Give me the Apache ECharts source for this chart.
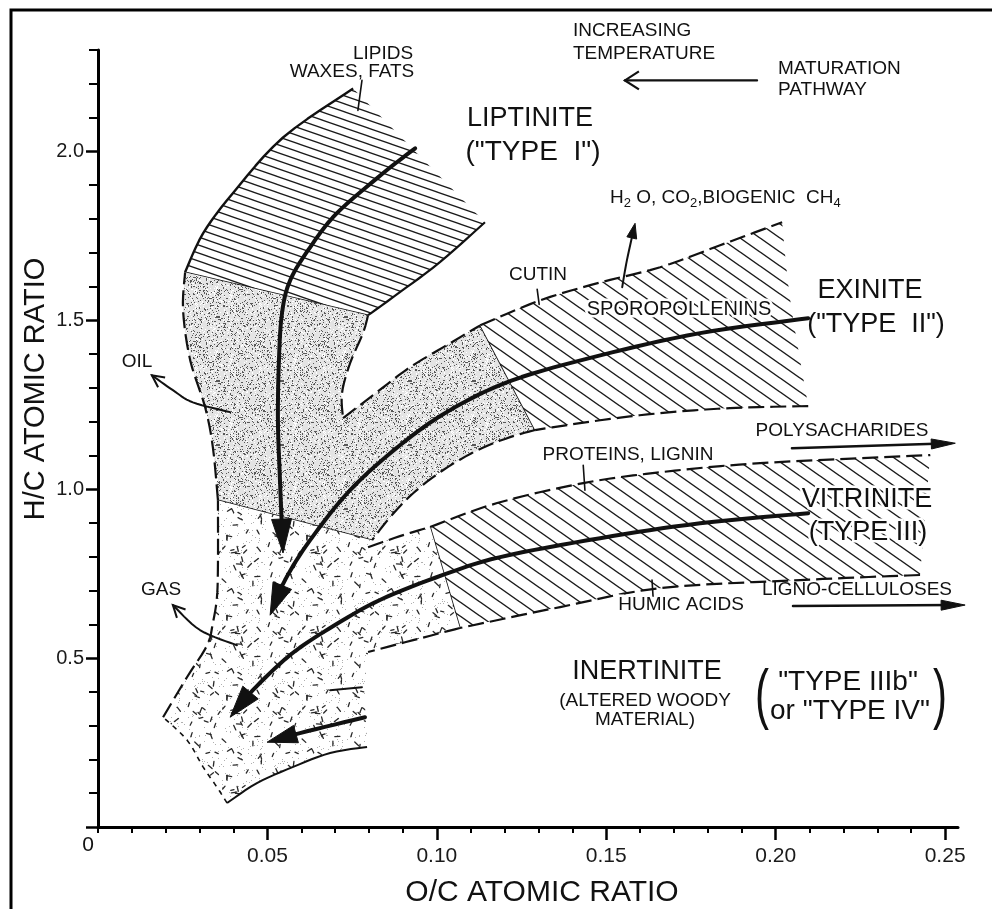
<!DOCTYPE html>
<html><head><meta charset="utf-8">
<script src="https://cdn.jsdelivr.net/npm/echarts@6.0.0/dist/echarts.min.js"></script>
<style>html,body{margin:0;padding:0;background:#fff}#c{width:992px;height:909px}</style>
</head><body><div id="c"></div>
<script>
// ---------------- axis ticks / labels ----------------
const xTickLabels = [0.05, 0.10, 0.15, 0.20, 0.25];
const xMajorTicks = [0.05, 0.10, 0.15, 0.20, 0.25];
const xMinorTicks = [0, 0.01, 0.02, 0.03, 0.04, 0.06, 0.07, 0.08, 0.09, 0.11, 0.12, 0.13, 0.14,
  0.16, 0.17, 0.18, 0.19, 0.21, 0.22, 0.23, 0.24];
const yTickLabels = [0.5, 1.0, 1.5, 2.0];
const yMajorTicks = [0, 0.5, 1.0, 1.5, 2.0];
const yMinorTicks = [0.1, 0.2, 0.3, 0.4, 0.6, 0.7, 0.8, 0.9, 1.1, 1.2, 1.3, 1.4, 1.6, 1.7, 1.8, 1.9, 2.1, 2.2, 2.3];

// ---------------- regions (O/C, H/C) ----------------
const typeIBand = [[0.0257,1.642],[0.0310,1.757],[0.0398,1.876],[0.0546,2.041],[0.0753,2.186],
  [0.1142,1.790],[0.1009,1.672],[0.0891,1.583],[0.0797,1.515]];
const oilZone = [[0.0257,1.642],[0.0797,1.515],[0.0782,1.462],[0.0744,1.373],[0.0720,1.284],[0.0723,1.210],
  [0.0823,1.287],[0.0921,1.361],[0.1039,1.432],[0.1128,1.485],[0.1290,1.175],[0.1216,1.154],[0.1119,1.115],
  [0.1018,1.056],[0.0930,0.988],[0.0862,0.917],[0.0809,0.849],[0.0354,0.967],[0.0339,1.124],[0.0316,1.243],
  [0.0272,1.382],[0.0251,1.530]];
const typeIIBand = [[0.1128,1.485],[0.1305,1.559],[0.1482,1.612],[0.1659,1.657],[0.1836,1.722],[0.2019,1.790],
  [0.2043,1.559],[0.2096,1.246],[0.1865,1.240],[0.1659,1.225],[0.1482,1.204],[0.1290,1.175]];
const typeIIIBand = [[0.0980,0.888],[0.1178,0.959],[0.1432,1.018],[0.1659,1.050],[0.1954,1.077],[0.2456,1.101],
  [0.2426,0.746],[0.2072,0.731],[0.1659,0.707],[0.1364,0.651],[0.1068,0.589]];
const gasZone = [[0.0354,0.967],[0.0809,0.849],[0.0797,0.828],[0.0891,0.861],[0.0980,0.888],[0.1068,0.589],
  [0.0930,0.553],[0.0797,0.518],[0.0788,0.405],[0.0794,0.237],[0.0685,0.219],[0.0576,0.178],[0.0469,0.130],
  [0.0381,0.071],[0.0351,0.118],[0.0310,0.178],[0.0263,0.257],[0.0192,0.325],[0.0263,0.444],[0.0322,0.538],
  [0.0339,0.604],[0.0351,0.680],[0.0354,0.781]];

// ---------------- maturation paths and arrows ----------------
const typeIPath = [[0.0936,2.009],[0.0841,1.935],[0.0705,1.817],[0.0626,1.716],[0.0567,1.618],[0.0543,1.521],
  [0.0534,1.382],[0.0531,1.204],[0.0537,1.027],[0.0546,0.811]];
const typeIIPath = [[0.2096,1.506],[0.1777,1.462],[0.1482,1.396],[0.1222,1.322],[0.1039,1.234],[0.0891,1.130],
  [0.0744,0.997],[0.0626,0.849],[0.0552,0.731],[0.0508,0.627]];
const typeIIIPath = [[0.2096,0.929],[0.1777,0.899],[0.1482,0.855],[0.1187,0.799],[0.1018,0.746],[0.0832,0.672],
  [0.0685,0.589],[0.0567,0.509],[0.0457,0.405],[0.0390,0.325]];
const typeIVPath = [[0.0788,0.325],[0.0596,0.278],[0.0499,0.251]];
const typeIVEdge = [[0.0685,0.405],[0.0779,0.414]];
const oilArrow = [[0.0390,1.228],[0.0280,1.257],[0.0221,1.293],[0.0159,1.337]];
const gasArrow = [[0.0410,0.538],[0.0301,0.583],[0.0221,0.657]];
const h2oArrow = [[0.1547,1.598],[0.1561,1.678],[0.1585,1.787]];
const maturationArrow = [[0.1945,2.210],[0.1555,2.210]];
const polysaccharideArrow = [[0.2048,1.121],[0.2530,1.136]];
const lignoArrow = [[0.2051,0.654],[0.2559,0.657]];
const lipidsLeader = [[0.0779,2.210],[0.0767,2.121]];
const cutinLeader = [[0.1296,1.592],[0.1302,1.547]];
const proteinsLeader = [[0.1432,1.071],[0.1437,0.997]];
const humicLeader = [[0.1635,0.731],[0.1638,0.683]];

// ---------------- textures ----------------
let seed = 987654;
function rnd() { seed = (Math.imul(seed, 1664525) + 1013904223) >>> 0; return seed / 4294967296; }
function hatchTile(w, h, lw) {
  const c = document.createElement('canvas'); c.width = w; c.height = h;
  const g = c.getContext('2d'); g.fillStyle = '#fff'; g.fillRect(0, 0, w, h);
  g.strokeStyle = '#1a1a1a'; g.lineWidth = lw;
  for (let k = -2; k <= 2; k++) { g.beginPath(); g.moveTo(-w, -h + k * h); g.lineTo(2 * w, 2 * h + k * h); g.stroke(); }
  return c;
}
function stippleTile() {
  const s = 64, c = document.createElement('canvas'); c.width = s; c.height = s;
  const g = c.getContext('2d'); g.fillStyle = '#e4e4e4'; g.fillRect(0, 0, s, s);
  for (let y = 0; y < s; y++) for (let x = 0; x < s; x++) {
    const r = rnd();
    if (r < 0.14) { g.fillStyle = '#585858'; g.fillRect(x, y, 1, 1); }
    else if (r < 0.26) { g.fillStyle = '#ffffff'; g.fillRect(x, y, 1, 1); }
  }
  return c;
}
function dashTile() {
  const s = 80, c = document.createElement('canvas'); c.width = s; c.height = s;
  const g = c.getContext('2d'); g.fillStyle = '#fff'; g.fillRect(0, 0, s, s);
  for (let y = 0; y < s; y++) for (let x = 0; x < s; x++) {
    if (rnd() < 0.025) { g.fillStyle = '#b0b0b0'; g.fillRect(x, y, 1, 1); }
  }
  g.strokeStyle = '#2a2a2a'; g.lineWidth = 1.3; g.lineCap = 'round';
  for (let i = 0; i < 60; i++) {
    const x = rnd() * s, y = rnd() * s, a = rnd() * Math.PI, L = 3 + rnd() * 2.5;
    for (const ox of [-s, 0, s]) for (const oy of [-s, 0, s]) {
      g.beginPath();
      g.moveTo(x + ox - Math.cos(a) * L / 2, y + oy - Math.sin(a) * L / 2);
      g.lineTo(x + ox + Math.cos(a) * L / 2, y + oy + Math.sin(a) * L / 2);
      g.stroke();
    }
  }
  return c;
}
const hatchI = { image: hatchTile(23, 8, 1.3), repeat: 'repeat' };
const hatchII = { image: hatchTile(20, 14, 1.4), repeat: 'repeat' };
const stipple = { image: stippleTile(), repeat: 'repeat' };
const dashes = { image: dashTile(), repeat: 'repeat' };

// ---------------- geometry helpers ----------------
function catmull(P, steps) {
  if (P.length < 3) return P.slice();
  const out = [P[0]];
  for (let i = 0; i < P.length - 1; i++) {
    const p0 = P[Math.max(i - 1, 0)], p1 = P[i], p2 = P[i + 1], p3 = P[Math.min(i + 2, P.length - 1)];
    for (let s = 1; s <= steps; s++) {
      const t = s / steps, t2 = t * t, t3 = t2 * t;
      const f = (a, b, c, d) => 0.5 * ((2 * b) + (-a + c) * t + (2 * a - 5 * b + 4 * c - d) * t2 + (-a + 3 * b - 3 * c + d) * t3);
      out.push([f(p0[0], p1[0], p2[0], p3[0]), f(p0[1], p1[1], p2[1], p3[1])]);
    }
  }
  return out;
}
function runIdx(n, i, j) { const idx = []; let k = i; for (;;) { idx.push(k); if (k === j) break; k = (k + 1) % n; } return idx; }
function regionPath(px, corners) {
  let out = [];
  for (let c = 0; c < corners.length; c++) {
    const run = catmull(runIdx(px.length, corners[c], corners[(c + 1) % corners.length]).map(k => px[k]), 6);
    out = out.concat(out.length ? run.slice(1) : run);
  }
  return out;
}
function geom(pts, z, build) {
  return { type: 'custom', coordinateSystem: 'cartesian2d', data: pts, z: z, silent: true, clip: false,
    renderItem: (params, api) => { if (params.dataIndex !== 0) return; return build(pts.map(p => api.coord(p))); } };
}
function region(pts, corners, fill, edges) {
  return geom(pts, 2, px => {
    const children = [{ type: 'polygon', shape: { points: regionPath(px, corners) }, style: { fill: fill, stroke: null } }];
    edges.forEach(e => {
      const P = catmull(runIdx(px.length, e[0], e[1]).map(k => px[k]), 6);
      children.push({ type: 'polyline', shape: { points: P },
        style: { stroke: '#111', fill: null, lineWidth: e[2], lineDash: e[3] || null, lineCap: 'butt', lineJoin: 'round' } });
    });
    return { type: 'group', children };
  });
}
function arrow(pts, o) {
  return geom(pts, 6, px => {
    const P = catmull(px, 8), tip = P[P.length - 1];
    let k = P.length - 2;
    while (k > 0 && Math.hypot(tip[0] - P[k][0], tip[1] - P[k][1]) < o.L * 0.9) k--;
    const d = Math.hypot(tip[0] - P[k][0], tip[1] - P[k][1]) || 1;
    const u = [(tip[0] - P[k][0]) / d, (tip[1] - P[k][1]) / d], n = [-u[1], u[0]];
    const base = [tip[0] - o.L * u[0], tip[1] - o.L * u[1]];
    const left = [base[0] + o.W * n[0], base[1] + o.W * n[1]], right = [base[0] - o.W * n[0], base[1] - o.W * n[1]];
    const children = [];
    let shaft = P;
    if (o.head === 'filled') {
      shaft = P.filter(p => Math.hypot(tip[0] - p[0], tip[1] - p[1]) > o.L * 0.5);
      shaft.push([tip[0] - o.L * 0.5 * u[0], tip[1] - o.L * 0.5 * u[1]]);
      children.push({ type: 'polygon', shape: { points: [tip, left, right] }, style: { fill: '#111', stroke: '#111', lineWidth: 1 } });
    } else if (o.head === 'open') {
      children.push({ type: 'polyline', shape: { points: [left, tip, right] }, style: { stroke: '#111', fill: null, lineWidth: o.lw, lineJoin: 'miter' } });
    }
    children.unshift({ type: 'polyline', shape: { points: shaft }, style: { stroke: '#111', fill: null, lineWidth: o.lw, lineCap: 'round', lineJoin: 'round' } });
    return { type: 'group', children };
  });
}

const THIN = 1.6, DASH = [16, 6];
const series = [
  region(typeIBand, [0, 4, 5, 8], hatchI, [[0, 4, 2.4], [5, 8, 2.2], [8, 0, THIN]]),
  region(oilZone, [0, 1, 5, 9, 10, 16, 17], stipple,
    [[1, 5, 2.2, DASH], [5, 9, 2.2, DASH], [9, 10, THIN], [10, 16, 2.2, DASH], [16, 17, THIN], [17, 0, 2.2, DASH]]),
  region(typeIIBand, [0, 5, 7, 11], hatchII, [[0, 5, 2.2, DASH], [7, 11, 2.2, DASH]]),
  region(typeIIIBand, [0, 5, 6, 10], hatchII, [[0, 5, 2.2, DASH], [6, 10, 2.2, DASH], [10, 0, THIN]]),
  region(gasZone, [0, 1, 2, 4, 5, 7, 9, 13, 17], dashes,
    [[2, 4, 2.2, DASH], [5, 7, 2.2, DASH], [9, 13, 2.0], [13, 17, 1.6, [5, 5]], [17, 0, 2.2, DASH]]),
  arrow(typeIPath, { head: 'filled', L: 34, W: 10, lw: 4 }),
  arrow(typeIIPath, { head: 'filled', L: 32, W: 10, lw: 4 }),
  arrow(typeIIIPath, { head: 'filled', L: 32, W: 10, lw: 4 }),
  arrow(typeIVPath, { head: 'filled', L: 30, W: 9, lw: 4 }),
  arrow(typeIVEdge, { head: 'none', L: 5, W: 0, lw: 2 }),
  arrow(oilArrow, { head: 'open', L: 12, W: 6, lw: 2 }),
  arrow(gasArrow, { head: 'open', L: 12, W: 6, lw: 2 }),
  arrow(h2oArrow, { head: 'filled', L: 15, W: 5, lw: 2 }),
  arrow(maturationArrow, { head: 'open', L: 14, W: 9, lw: 2.2 }),
  arrow(polysaccharideArrow, { head: 'filled', L: 24, W: 5, lw: 2.5 }),
  arrow(lignoArrow, { head: 'filled', L: 24, W: 5, lw: 2.5 }),
  arrow(lipidsLeader, { head: 'none', L: 5, W: 0, lw: 1.6 }),
  arrow(cutinLeader, { head: 'none', L: 5, W: 0, lw: 1.6 }),
  arrow(proteinsLeader, { head: 'none', L: 5, W: 0, lw: 1.6 }),
  arrow(humicLeader, { head: 'none', L: 5, W: 0, lw: 1.6 })
];

// ---------------- texts ----------------
const FF = '"Liberation Sans", Arial, Helvetica, sans-serif';
function T(text, x, y, size, o) {
  o = o || {};
  const base = { type: 'text', x, y, z: 100, silent: true, rotation: o.rot || 0, scaleY: o.sy || 1,
    style: { text, fontSize: size, fontFamily: FF, fill: '#111', align: o.align || 'center', verticalAlign: 'middle', rich: o.rich } };
  if (!o.halo) return [base];
  const halo = JSON.parse(JSON.stringify(base));
  halo.z = 99; halo.style.fill = '#fff'; halo.style.stroke = '#fff'; halo.style.lineWidth = 5;
  return [halo, base];
}
const texts = [].concat(
  T('LIPIDS', 383, 54, 19), T('WAXES, FATS', 352, 72, 19),
  T('LIPTINITE', 530, 119, 27), T('("TYPE  I")', 533, 152, 28),
  T('INCREASING', 573, 31, 19, { align: 'left' }), T('TEMPERATURE', 573, 54, 19, { align: 'left' }),
  T('MATURATION', 778, 69, 19, { align: 'left' }), T('PATHWAY', 778, 90, 19, { align: 'left' }),
  T('H{s|2} O, CO{s|2},BIOGENIC  CH{s|4}', 610, 198, 19, { align: 'left',
    rich: { s: { fontSize: 13, fontFamily: FF, padding: [11, 0, 0, 0] } } }),
  T('CUTIN', 538, 275, 19),
  T('SPOROPOLLENINS', 679, 309, 20, { halo: true }),
  T('EXINITE', 870, 291, 27), T('("TYPE  II")', 876, 325, 27),
  T('POLYSACHARIDES', 842, 431, 19),
  T('PROTEINS, LIGNIN', 628, 455, 19),
  T('VITRINITE', 867, 500, 27, { halo: true }), T('(TYPE III)', 868, 533, 27, { halo: true }),
  T('HUMIC ACIDS', 681, 605, 19, { halo: true }),
  T('LIGNO-CELLULOSES', 857, 590, 19),
  T('INERTINITE', 647, 672, 27), T('(ALTERED WOODY', 645, 701, 19), T('MATERIAL)', 645, 720, 19),
  T('"TYPE IIIb"', 848, 682, 28), T('or "TYPE IV"', 850, 711, 28),
  T('(', 762, 697, 42, { sy: 1.6 }), T(')', 940, 697, 42, { sy: 1.6 }),
  T('OIL', 137, 362, 19), T('GAS', 161, 590, 19),
  T('0', 88, 845, 21),
  T('O/C ATOMIC RATIO', 542, 893, 30),
  T('H/C ATOMIC RATIO', 36, 389, 29, { rot: Math.PI / 2 })
);
texts.push({ type: 'rect', z: 100, silent: true, shape: { x: 11, y: 10, width: 1000, height: 1000 },
  style: { fill: null, stroke: '#000', lineWidth: 3 } });

const chart = echarts.init(document.getElementById('c'), null, { renderer: 'canvas' });
chart.setOption({
  animation: false,
  backgroundColor: '#fff',
  grid: { left: 98, right: 34, top: 50, bottom: 82, containLabel: false },
  xAxis: [
    { type: 'value', min: 0, max: 0.2538, position: 'bottom',
      axisLine: { show: true, onZero: false, lineStyle: { color: '#000', width: 3 } },
      axisTick: { show: true, length: 13, customValues: xMajorTicks, lineStyle: { color: '#000', width: 2.5 } },
      axisLabel: { customValues: xTickLabels, margin: 19, formatter: v => v.toFixed(2),
        color: '#1a1a1a', fontSize: 21, fontFamily: FF },
      splitLine: { show: false } },
    { type: 'value', min: 0, max: 0.2538, position: 'bottom',
      axisLine: { show: false, onZero: false },
      axisTick: { show: true, length: 6, customValues: xMinorTicks, lineStyle: { color: '#000', width: 2 } },
      axisLabel: { show: false }, splitLine: { show: false } }
  ],
  yAxis: [
    { type: 'value', min: 0, max: 2.3, position: 'left',
      axisLine: { show: true, onZero: false, lineStyle: { color: '#000', width: 3 } },
      axisTick: { show: true, length: 12, customValues: yMajorTicks, lineStyle: { color: '#000', width: 2.5 } },
      axisLabel: { customValues: yTickLabels, margin: 14, formatter: v => v.toFixed(1),
        color: '#1a1a1a', fontSize: 20, fontFamily: FF },
      splitLine: { show: false } },
    { type: 'value', min: 0, max: 2.3, position: 'left',
      axisLine: { show: false, onZero: false },
      axisTick: { show: true, length: 9, customValues: yMinorTicks, lineStyle: { color: '#000', width: 2 } },
      axisLabel: { show: false }, splitLine: { show: false } }
  ],
  series: series,
  graphic: { elements: texts }
});
</script></body></html>
